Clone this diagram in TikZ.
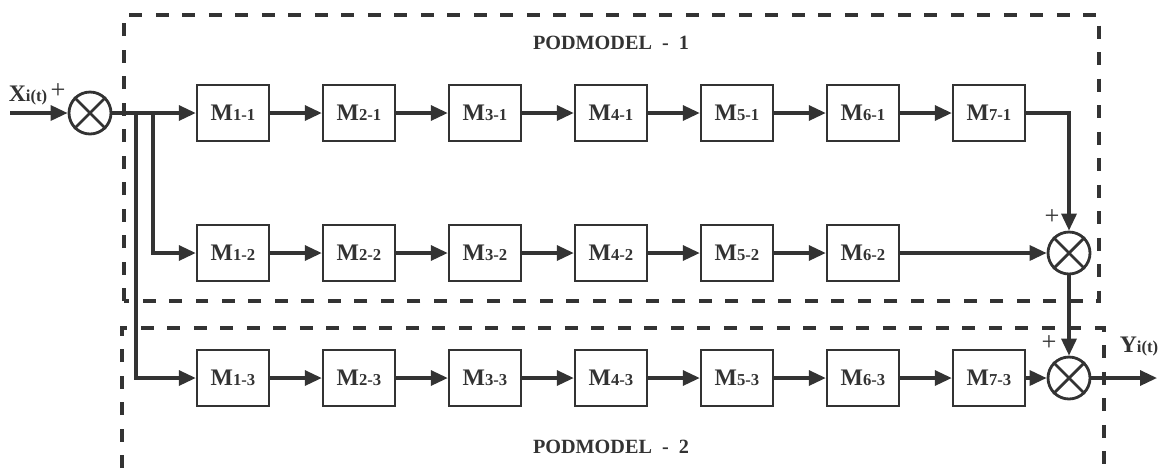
\documentclass[tikz,border=0pt]{standalone}
\usepackage{fontspec}
\setmainfont{Liberation Serif}
\usetikzlibrary{arrows.meta, positioning}
\definecolor{linegray}{HTML}{333333}
\newcommand{\bigsz}{\fontsize{13.5}{13.5}\selectfont}
\newcommand{\smsz}{\fontsize{9.5}{9.5}\selectfont}
\newcommand{\mlab}[1]{{\bigsz M}{\smsz #1}}

\begin{document}
\begin{tikzpicture}[x=0.02cm, y=-0.02cm, line width=1.9pt, draw=linegray, color=linegray,
  blok/.style={draw=linegray, line width=1.4pt, minimum width=1.44cm, minimum height=1.12cm, font=\bfseries, inner sep=0pt},
  sumnode/.style={draw=linegray, line width=1.6pt, circle, minimum size=0.84cm, inner sep=0pt},
  arr/.style={-{Triangle[length=0.34cm, width=0.3cm]}},
  frame/.style={line width=1.8pt, dash pattern=on 0.26cm off 0.27cm}]
\useasboundingbox (0,0) rectangle (1158,468);
% frames
\draw [frame] (124,301) rectangle (1099,15);
\draw [frame] (122,468) -- (122,328) -- (1104,328) -- (1104,468);
\node at (611,43) [font=\bfseries\fontsize{11.5}{12}\selectfont] {PODMODEL\ \ -\ \ 1};
\node at (611,447) [font=\bfseries\fontsize{11.5}{12}\selectfont] {PODMODEL\ \ -\ \ 2};
% input
\coordinate (in) at (10,113);
\node (s0) at (90,113) [sumnode] {};
\draw [line width=1.6pt] (s0.45) -- (s0.225);
\draw [line width=1.6pt] (s0.135) -- (s0.315);
\node at (28,96) [font=\bfseries] {{\bigsz X}{\smsz i(t)}};
\node at (58,91) [font=\fontsize{15}{15}\selectfont] {+};
\draw [arr] (in) -- (s0.west);
% row 1
\node (m11) at (233,113) [blok] {\mlab{1-1}};
\node (m21) at (359,113) [blok] {\mlab{2-1}};
\node (m31) at (485,113) [blok] {\mlab{3-1}};
\node (m41) at (611,113) [blok] {\mlab{4-1}};
\node (m51) at (737,113) [blok] {\mlab{5-1}};
\node (m61) at (863,113) [blok] {\mlab{6-1}};
\node (m71) at (989,113) [blok] {\mlab{7-1}};
% row 2
\node (m12) at (233,253) [blok] {\mlab{1-2}};
\node (m22) at (359,253) [blok] {\mlab{2-2}};
\node (m32) at (485,253) [blok] {\mlab{3-2}};
\node (m42) at (611,253) [blok] {\mlab{4-2}};
\node (m52) at (737,253) [blok] {\mlab{5-2}};
\node (m62) at (863,253) [blok] {\mlab{6-2}};
% row 3
\node (m13) at (233,378) [blok] {\mlab{1-3}};
\node (m23) at (359,378) [blok] {\mlab{2-3}};
\node (m33) at (485,378) [blok] {\mlab{3-3}};
\node (m43) at (611,378) [blok] {\mlab{4-3}};
\node (m53) at (737,378) [blok] {\mlab{5-3}};
\node (m63) at (863,378) [blok] {\mlab{6-3}};
\node (m73) at (989,378) [blok] {\mlab{7-3}};
% sums
\node (s1) at (1069,253) [sumnode] {};
\draw [line width=1.6pt] (s1.45) -- (s1.225);
\draw [line width=1.6pt] (s1.135) -- (s1.315);
\node (s2) at (1069,378) [sumnode] {};
\draw [line width=1.6pt] (s2.45) -- (s2.225);
\draw [line width=1.6pt] (s2.135) -- (s2.315);
\node at (1052,217) [font=\fontsize{15}{15}\selectfont] {+};
\node at (1049,343) [font=\fontsize{15}{15}\selectfont] {+};
\coordinate (out) at (1157,378);
\node at (1139,346) [font=\bfseries] {{\bigsz Y}{\smsz i(t)}};
% branches
\coordinate (b2) at (153,113);
\coordinate (b3) at (136,113);
\draw [arr] (s0.east) -- (m11.west);
\draw [arr] (b2) |- (m12.west);
\draw [arr] (b3) |- (m13.west);
% chains
\draw [arr] (m11) -- (m21);
\draw [arr] (m21) -- (m31);
\draw [arr] (m31) -- (m41);
\draw [arr] (m41) -- (m51);
\draw [arr] (m51) -- (m61);
\draw [arr] (m61) -- (m71);
\draw [arr] (m12) -- (m22);
\draw [arr] (m22) -- (m32);
\draw [arr] (m32) -- (m42);
\draw [arr] (m42) -- (m52);
\draw [arr] (m52) -- (m62);
\draw [arr] (m13) -- (m23);
\draw [arr] (m23) -- (m33);
\draw [arr] (m33) -- (m43);
\draw [arr] (m43) -- (m53);
\draw [arr] (m53) -- (m63);
\draw [arr] (m63) -- (m73);
% to sums
\draw [arr] (m71.east) -| (s1.north);
\draw [arr] (m62.east) -- (s1.west);
\draw [arr] (s1.south) -- (s2.north);
\draw [arr] (m73.east) -- (s2.west);
\draw [arr] (s2.east) -- (out);
\end{tikzpicture}
\end{document}
